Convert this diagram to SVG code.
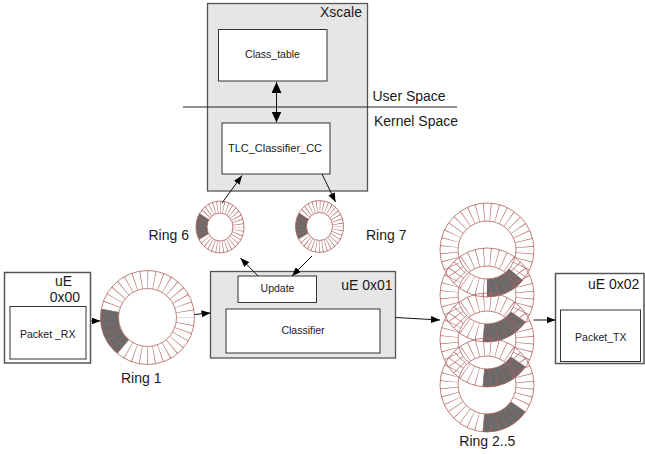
<svg xmlns="http://www.w3.org/2000/svg" width="645" height="454" viewBox="0 0 645 454">
<style>
text{font-family:"Liberation Sans",Arial,sans-serif;fill:#1a1a1a}
.big{font-size:14px}
.sm{font-size:10.5px}
.gbox{fill:#e6e6e6;stroke:#555;stroke-width:1.3}
.wbox{fill:#fff;stroke:#333;stroke-width:1}
.edge{fill:none;stroke:#b06262;stroke-width:0.8}
.dkL{fill:none;stroke:#6a6a6a;stroke-width:18;stroke-dasharray:39.79 198.97}
.dkS{fill:none;stroke:#6a6a6a;stroke-width:11;stroke-dasharray:19.37 96.87}
.divL{fill:none;stroke:#b06262;stroke-width:18;stroke-dasharray:0.6 6.032}
.divS{fill:none;stroke:#b06262;stroke-width:11;stroke-dasharray:0.55 2.679}
.conn{stroke:#111;stroke-width:1;fill:none}
</style>
<defs>
<marker id="ah" markerUnits="userSpaceOnUse" markerWidth="9" markerHeight="7" refX="9" refY="3.5" orient="auto-start-reverse"><path d="M0,0 L9,3.5 L0,7 z" fill="#000"/></marker>
<marker id="ahb" markerUnits="userSpaceOnUse" markerWidth="11" markerHeight="10" refX="11" refY="5" orient="auto-start-reverse"><path d="M0,0 L11,5 L0,10 z" fill="#000"/></marker>
</defs>

<g id="xscale">
<rect class="gbox" x="207.5" y="3.5" width="160" height="187.5"/>
<text class="big" x="362" y="17" text-anchor="end">Xscale</text>
</g>
<g id="class_table">
<rect class="wbox" x="218.5" y="29.5" width="108.5" height="51.5"/>
<text class="sm" x="272.5" y="57.5" text-anchor="middle">Class_table</text>
</g>
<g id="tlc">
<rect class="wbox" x="222" y="123" width="108" height="51"/>
<text class="sm" x="275" y="151.5" text-anchor="middle" style="font-size:11px">TLC_Classifier_CC</text>
</g>
<g id="space_line">
<line x1="183" y1="107" x2="457" y2="107" stroke="#222" stroke-width="1"/>
<text class="big" x="372.5" y="101">User Space</text>
<text class="big" x="374" y="125.5">Kernel Space</text>
</g>

<g id="ue00">
<rect x="4.5" y="272.5" width="86" height="90.5" fill="#fff" stroke="#555" stroke-width="1.5"/>
<rect class="wbox" x="10" y="306.5" width="76" height="52.5"/>
<text class="big" x="72" y="285.5" text-anchor="end">uE</text>
<text class="big" x="80" y="301.5" text-anchor="end">0x00</text>
<text class="sm" x="47.7" y="337.5" text-anchor="middle">Packet _RX</text>
</g>

<g id="ue01">
<rect class="gbox" x="210.5" y="271.5" width="185" height="86.5"/>
<text class="big" x="392.5" y="290" text-anchor="end">uE 0x01</text>
</g>
<g id="update">
<rect class="wbox" x="238" y="276" width="78.5" height="26.5"/>
<text class="sm" x="277.5" y="292.3" text-anchor="middle">Update</text>
</g>
<g id="classifier">
<rect class="wbox" x="226" y="309" width="154" height="44"/>
<text class="sm" x="303" y="334" text-anchor="middle">Classifier</text>
</g>

<g id="ue02">
<rect x="555.5" y="273.5" width="88.5" height="90" fill="#fff" stroke="#555" stroke-width="1.5"/>
<rect class="wbox" x="560.5" y="310" width="80" height="51.5"/>
<text class="big" x="639.3" y="288.7" text-anchor="end">uE 0x02</text>
<text class="sm" x="600.8" y="341" text-anchor="middle">Packet_TX</text>
</g>

<g id="ring1">
<g transform="translate(147.5,317.5)">
<circle class="dkL" r="38" stroke-dashoffset="-86.22"/>
<circle class="divL" r="38" stroke-dashoffset="0.3"/>
<circle class="edge" r="47"/>
<circle class="edge" r="29"/>
</g>
<text class="big" x="121" y="382.7">Ring 1</text>
</g>

<g id="ring6">
<g transform="translate(220,227) scale(1,1.08)">
<circle class="dkS" r="18.5" stroke-dashoffset="-48.43"/>
<circle class="divS" r="18.5" stroke-dashoffset="0.28"/>
<circle class="edge" r="24"/>
<circle class="edge" r="13"/>
</g>
<text class="big" x="148.5" y="240">Ring 6</text>
</g>

<g id="ring7">
<g transform="translate(319.5,226.5) scale(1,1.08)">
<circle class="dkS" r="18.5" stroke-dashoffset="-48.43"/>
<circle class="divS" r="18.5" stroke-dashoffset="0.28"/>
<circle class="edge" r="24"/>
<circle class="edge" r="13"/>
</g>
<text class="big" x="366" y="240">Ring 7</text>
</g>

<g id="ring2_5">
<g transform="translate(487,250)">
<circle class="dkL" r="38" stroke-dashoffset="-26.53" style="stroke-dasharray:33.16 205.6"/>
<circle class="divL" r="38" stroke-dashoffset="-3.02"/>
<circle class="edge" r="47"/>
<circle class="edge" r="29"/>
</g>
<g transform="translate(487,295)">
<circle class="dkL" r="38" stroke-dashoffset="-23.21"/>
<circle class="divL" r="38" stroke-dashoffset="-3.02"/>
<circle class="edge" r="47"/>
<circle class="edge" r="29"/>
</g>
<g transform="translate(487,340)">
<circle class="dkL" r="38" stroke-dashoffset="-23.21"/>
<circle class="divL" r="38" stroke-dashoffset="-3.02"/>
<circle class="edge" r="47"/>
<circle class="edge" r="29"/>
</g>
<g transform="translate(487,385)">
<circle class="dkL" r="38" stroke-dashoffset="-23.21"/>
<circle class="divL" r="38" stroke-dashoffset="-3.02"/>
<circle class="edge" r="47"/>
<circle class="edge" r="29"/>
</g>
<text class="big" x="459.3" y="445.7">Ring 2..5</text>
</g>

<g id="connectors">
<line class="conn" x1="276.5" y1="82" x2="276.5" y2="122.5" stroke-width="2" marker-start="url(#ahb)" marker-end="url(#ahb)"/>
<line class="conn" x1="222" y1="203" x2="242" y2="175.5" marker-end="url(#ah)"/>
<line class="conn" x1="322" y1="174" x2="335.5" y2="202" marker-end="url(#ah)"/>
<line class="conn" x1="258" y1="276" x2="240.5" y2="258" marker-end="url(#ah)"/>
<line class="conn" x1="312" y1="256" x2="292" y2="276" marker-end="url(#ah)"/>
<line class="conn" x1="91" y1="321" x2="100.5" y2="321" marker-end="url(#ah)"/>
<line class="conn" x1="194.5" y1="314.5" x2="210.5" y2="313" marker-end="url(#ah)"/>
<line class="conn" x1="395.5" y1="317.5" x2="440" y2="320" marker-end="url(#ah)"/>
<line class="conn" x1="533.5" y1="320" x2="555.5" y2="320" marker-end="url(#ah)"/>
</g>
</svg>
